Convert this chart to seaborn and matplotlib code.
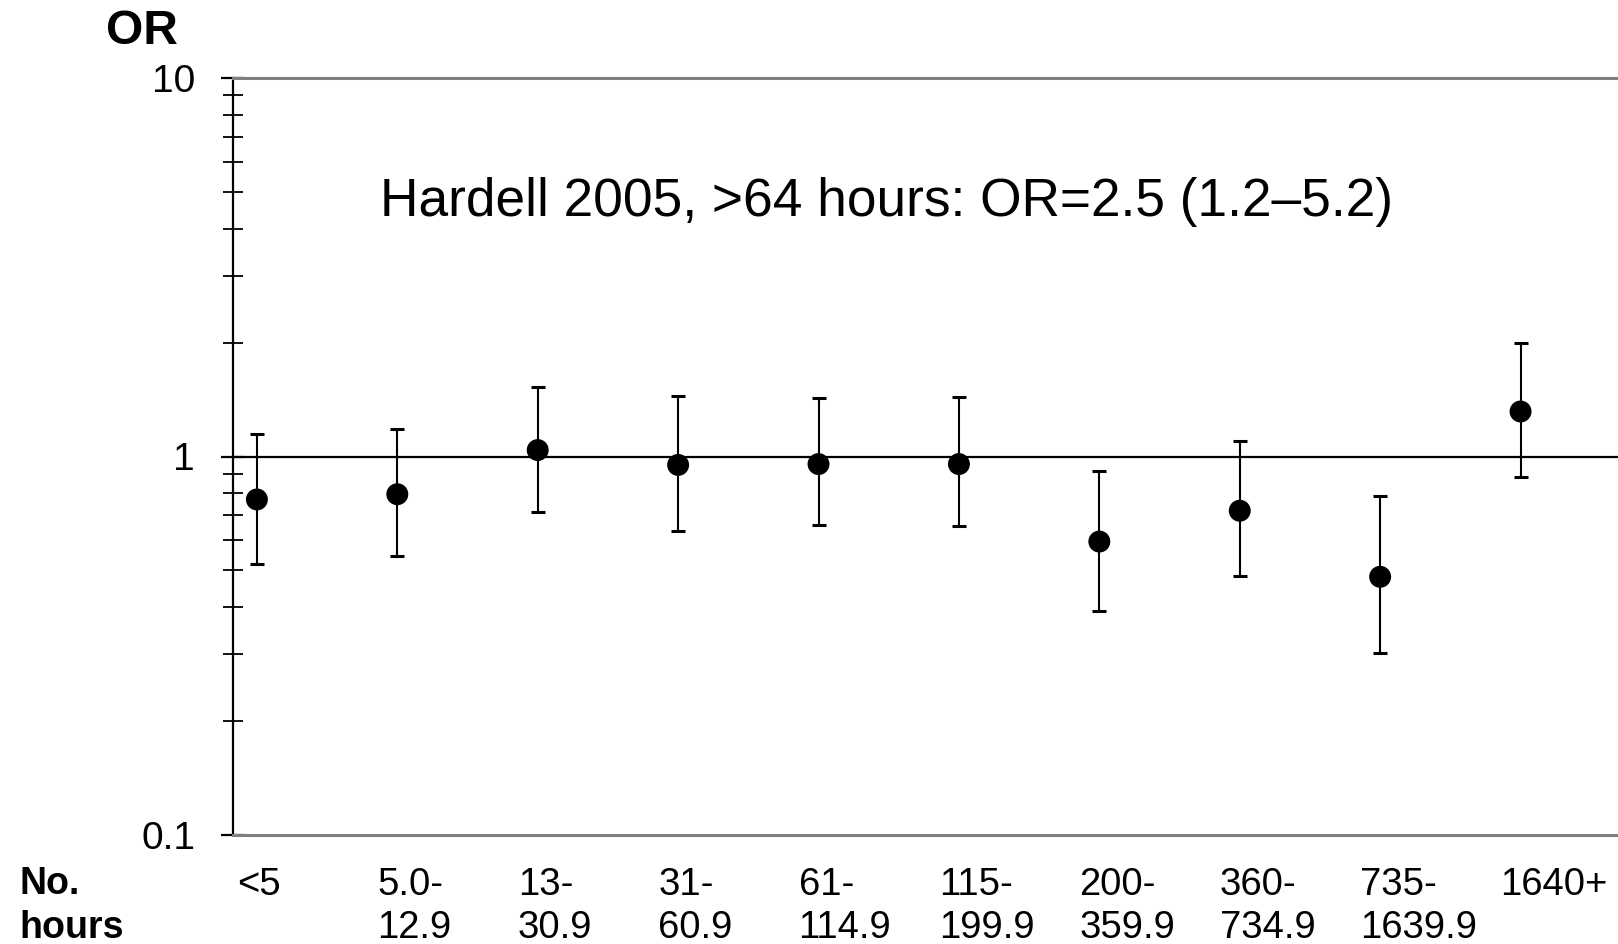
import numpy as np
import pandas as pd
import matplotlib
matplotlib.use("Agg")
import matplotlib.pyplot as plt
import matplotlib.transforms as mtransforms
import seaborn as sns
from matplotlib.ticker import LogLocator, NullFormatter, FixedLocator

# ---- data ----
categories = ["<5", "5.0-\n12.9", "13-\n30.9", "31-\n60.9", "61-\n114.9",
              "115-\n199.9", "200-\n359.9", "360-\n734.9", "735-\n1639.9", "1640+"]
odds_ratio = [0.77, 0.795, 1.04, 0.95, 0.955, 0.955, 0.596, 0.719, 0.481, 1.315]
ci_lower = [0.52, 0.545, 0.715, 0.634, 0.659, 0.655, 0.391, 0.484, 0.302, 0.885]
ci_upper = [1.15, 1.18, 1.53, 1.445, 1.43, 1.44, 0.914, 1.096, 0.786, 1.99]
ytick_values = [0.1, 1, 10]
ytick_labels = ["0.1", "1", "10"]
annotation = "Hardell 2005, >64 hours: OR=2.5 (1.2\u20135.2)"

df = pd.DataFrame({"hours": categories, "OR": odds_ratio,
                   "lo": ci_lower, "hi": ci_upper})

sns.set_theme(style="white")
plt.rcParams["font.family"] = ["Liberation Sans", "DejaVu Sans"]
plt.rcParams["text.color"] = "black"
plt.rcParams["xtick.color"] = "black"
plt.rcParams["ytick.color"] = "black"

W, H = 1618, 944
fig = plt.figure(figsize=(W / 100, H / 100), dpi=100)
ax = fig.add_axes([233.3 / W, 1 - 835 / H, 1 - 233.3 / W, (835 - 78) / H])

pos = np.arange(len(df))
yerr = np.vstack([df["OR"] - df["lo"], df["hi"] - df["OR"]])
ax.errorbar(pos, df["OR"], yerr=yerr, fmt="none", ecolor="black",
            elinewidth=1.5, capsize=5.2, capthick=2.2, zorder=3)
sns.scatterplot(data=df, x="hours", y="OR", ax=ax, color="black",
                s=15.8 ** 2, edgecolor="none", zorder=4, legend=False)

ax.axhline(1, color="black", lw=1.6, zorder=2)

ax.set_yscale("log")
ax.set_ylim(0.1, 10)
ax.set_xlim(-0.168, 9.694)

ax.yaxis.set_major_locator(FixedLocator(ytick_values))
ax.set_yticklabels(ytick_labels)
ax.yaxis.set_minor_locator(LogLocator(base=10, subs=np.arange(2, 10)))
ax.yaxis.set_minor_formatter(NullFormatter())
ax.tick_params(axis="y", which="major", direction="inout", length=17,
               width=1.6, color="black", labelsize=28, pad=19, left=True,
               labelcolor="black")
ax.tick_params(axis="y", which="minor", direction="inout", length=14.4,
               width=1.3, color="black", left=True)

ax.set_xticks(pos)
ax.set_xticklabels(df["hours"], fontsize=27.5, linespacing=1.26,
                   va="top", ha="left")
ax.tick_params(axis="x", length=0, pad=23, labelcolor="black")
shift = mtransforms.ScaledTranslation(-20 / 100, 0, fig.dpi_scale_trans)
for lab in ax.get_xticklabels():
    lab.set_multialignment("left")
    lab.set_transform(lab.get_transform() + shift)

ax.set_xlabel("")
ax.set_ylabel("")

for side in ["top", "bottom"]:
    ax.spines[side].set_color("#808080")
    ax.spines[side].set_linewidth(2.2)
ax.spines["left"].set_color("black")
ax.spines["left"].set_linewidth(1.6)
ax.spines["right"].set_visible(False)

fig.text(106 / W, 1 - 31 / H, "OR", fontsize=34.5, fontweight="bold",
         ha="left", va="center")
fig.text(19 / W, 1 - 866 / H, "No.\nhours", fontsize=27, fontweight="bold",
         ha="left", va="top", linespacing=1.28)

fig.text(887 / W, 1 - 202 / H, annotation, fontsize=38.3,
         ha="center", va="center")

fig.savefig("out.png", dpi=100, facecolor="white")
